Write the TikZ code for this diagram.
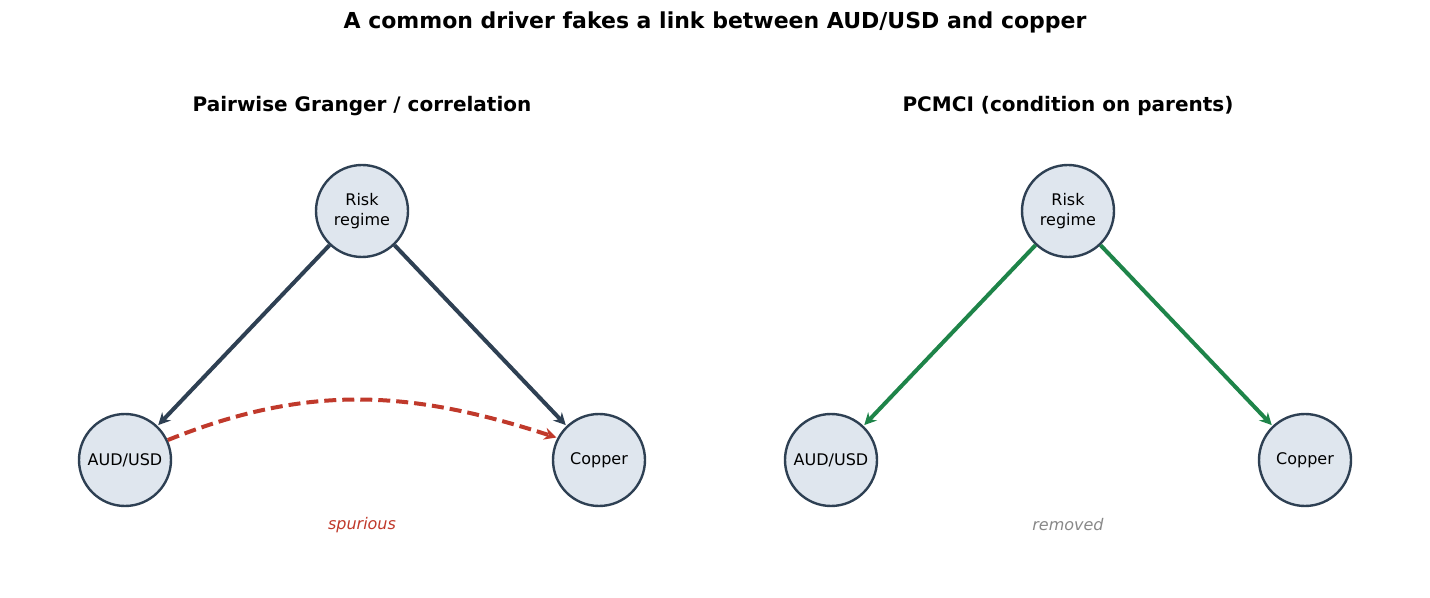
\documentclass[tikz,border=0pt]{standalone}
\usepackage{fontspec}
\setmainfont{DejaVu Sans}
\usetikzlibrary{arrows.meta}
\definecolor{dk}{HTML}{2E4053}
\definecolor{gr}{HTML}{1E8449}
\definecolor{rd}{HTML}{C0392B}
\definecolor{fl}{HTML}{DFE6EE}
\definecolor{gy}{HTML}{888888}
\begin{document}
\begin{tikzpicture}[x=0.5pt,y=-0.5pt,
  nd/.style={circle,draw=dk,fill=fl,line width=1.2pt,minimum size=46pt,inner sep=0pt,align=center,font=\fontsize{8}{10}\selectfont},
  ar/.style={line width=2pt,-{Stealth[length=6pt,width=6pt]},shorten >=0.5pt},
  ttl/.style={font=\fontsize{10}{12}\selectfont\bfseries}]
\useasboundingbox (0,0) rectangle (1430,598);
\node[font=\fontsize{11}{13}\selectfont\bfseries] (t) at (715,22) {A common driver fakes a link between AUD/USD and copper};
\node[ttl] (t1) at (362,106) {Pairwise Granger / correlation};
\node[ttl] (t2) at (1068,106) {PCMCI (condition on parents)};
\node[nd] (r1) at (362,211) {Risk\\regime};
\node[nd] (a1) at (125,460) {AUD/USD};
\node[nd] (c1) at (599,460) {Copper};
\node[nd] (r2) at (1068,211) {Risk\\regime};
\node[nd] (a2) at (831,460) {AUD/USD};
\node[nd] (c2) at (1305,460) {Copper};
\draw[ar,dk] (r1) -- (a1);
\draw[ar,dk] (r1) -- (c1);
\draw[ar,gr] (r2) -- (a2);
\draw[ar,gr] (r2) -- (c2);
\draw[ar,rd,dash pattern=on 6pt off 3pt] (a1.25) to[out=22,in=162] (c1.152);
\node[rd,font=\fontsize{8}{10}\selectfont\itshape] (s) at (362,525) {spurious};
\node[gy,font=\fontsize{8}{10}\selectfont\itshape] (rm) at (1068,525) {removed};
\end{tikzpicture}
\end{document}
